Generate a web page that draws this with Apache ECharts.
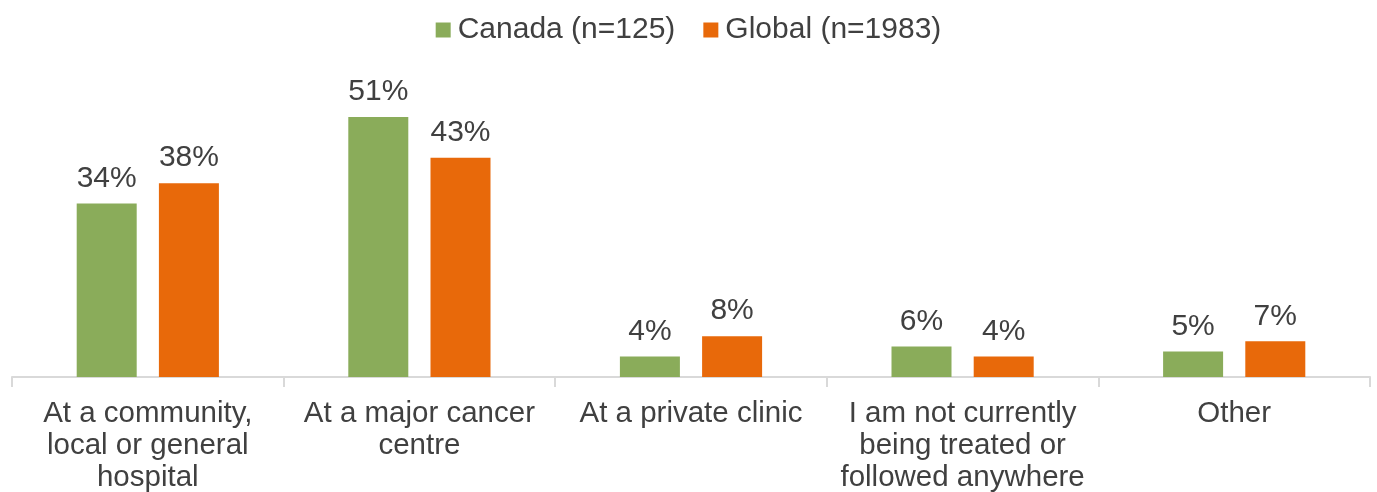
<!DOCTYPE html>
<html>
<head>
    <meta charset="UTF-8">
    <title>Chart</title>
    <style type="text/css">
        body, html{width:100%;height:100%;margin:0;background:#fff;}
        #main{width:1377px;height:492px;}
    </style>
    <script src="https://cdn.jsdelivr.net/npm/echarts@6/dist/echarts.min.js"></script>
</head>
<body>
<div id="main"></div>
<script type="text/javascript">
    // categories and values (percent)
    var categories = [
        'At a community,\nlocal or general\nhospital',
        'At a major cancer\ncentre',
        'At a private clinic',
        'I am not currently\nbeing treated or\nfollowed anywhere',
        'Other'
    ];
    var canada = [34, 51, 4, 6, 5];
    var global = [38, 43, 8, 4, 7];
    var seriesNames = ['Canada (n=125)', 'Global (n=1983)'];

    var txt = '#404040';
    var font = 'Liberation Sans, Arial, sans-serif';

    var chart = echarts.init(document.getElementById('main'));
    var labelOpt = {
        show: true,
        position: 'top',
        distance: 10,
        formatter: '{c}%',
        color: txt,
        fontSize: 30,
        fontFamily: font
    };
    chart.setOption({
        animation: false,
        legend: {
            top: 10,
            left: 'center',
            itemWidth: 15,
            itemHeight: 15,
            itemGap: 28,
            icon: 'rect',
            textStyle: {color: txt, fontSize: 30, fontFamily: font, padding: [0, 0, 0, 2]},
            data: seriesNames
        },
        grid: {left: 12, right: 7, top: 71, bottom: 115, containLabel: false, outerBoundsMode: 'none'},
        xAxis: {
            type: 'category',
            data: categories,
            axisLine: {lineStyle: {color: '#d9d9d9', width: 2}},
            axisTick: {show: true, length: 10, lineStyle: {color: '#d9d9d9', width: 2}},
            axisLabel: {
                color: txt, fontSize: 29.5, fontFamily: font,
                lineHeight: 32, margin: 21, interval: 0, align: 'center'
            }
        },
        yAxis: {
            type: 'value',
            min: 0, max: 60,
            show: false,
            splitLine: {show: false}
        },
        series: [
            {
                name: seriesNames[0], type: 'bar', data: canada,
                barWidth: 60, barGap: '37%',
                itemStyle: {color: '#8AAC5A'},
                label: labelOpt
            },
            {
                name: seriesNames[1], type: 'bar', data: global,
                barWidth: 60,
                itemStyle: {color: '#E8690A'},
                label: labelOpt
            }
        ]
    });
</script>
</body>
</html>
